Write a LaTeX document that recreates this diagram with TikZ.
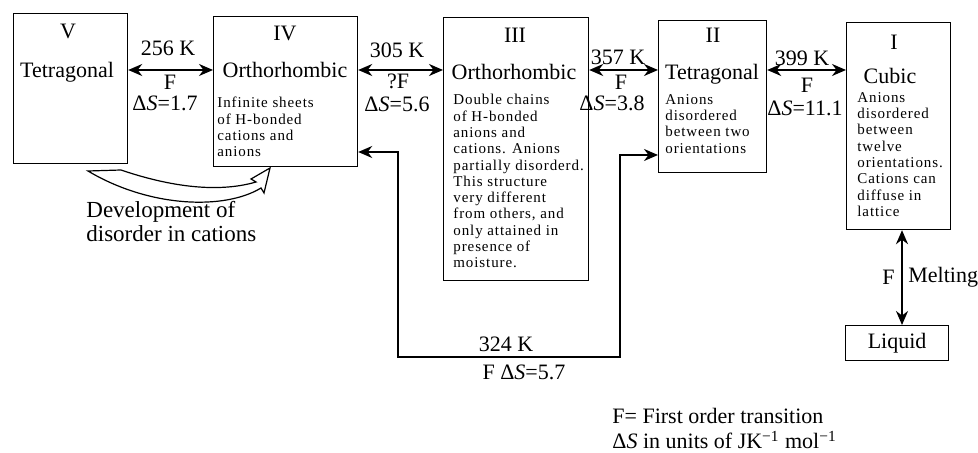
\documentclass[tikz,border=0pt]{standalone}
\usepackage{fontspec}
\setmainfont{Liberation Serif}
\usetikzlibrary{arrows.meta}

\begin{document}
\begin{tikzpicture}
[x=0.5pt,y=-0.5pt,
phase/.style={draw,line width=0.6pt,inner sep=0pt,anchor=north west},
trans/.style={{Stealth[length=7pt,width=6pt]}-{Stealth[length=7pt,width=6pt]},line width=0.9pt},
big/.style={font=\fontsize{11}{13}\selectfont,inner sep=0pt},
desc/.style={font=\fontsize{7.5}{8.15}\selectfont\addfontfeature{LetterSpace=6},align=left,anchor=north west,inner sep=0pt}]
\useasboundingbox (0,0) rectangle (978,453);
% the five phases and the melt
\node[phase,minimum width=57pt,minimum height=75pt] (V) at (13,13) {};
\node[phase,minimum width=72pt,minimum height=75pt] (IV) at (213,16) {};
\node[phase,minimum width=72.5pt,minimum height=131.5pt] (III) at (443,17) {};
\node[phase,minimum width=54pt,minimum height=76pt] (II) at (658,20) {};
\node[phase,minimum width=52pt,minimum height=103.5pt] (I) at (846,22) {};
\node[phase,big,minimum width=51.5pt,minimum height=17.5pt] (liquid) at (845,325) {Liquid};
% inside the boxes
\node[big] (Vnum) at (68,31) {V};
\node[big] (Vname) at (67,72) {Tetragonal};
\node[big] (IVnum) at (285,33) {IV};
\node[big] (IVname) at (285,70) {Orthorhombic};
\node[desc] (IVdesc) at (217,97) {Infinite sheets\\of H-bonded\\cations and\\anions};
\node[big] (IIInum) at (515,35) {III};
\node[big] (IIIname) at (514,72) {Orthorhombic};
\node[desc] (IIIdesc) at (453,94) {Double chains\\of H-bonded\\anions and\\cations. Anions\\partially disorderd.\\This structure\\very different\\from others, and\\only attained in\\presence of\\moisture.};
\node[big] (IInum) at (713,35) {II};
\node[big] (IIname) at (712,74) {Tetragonal};
\node[desc] (IIdesc) at (665,94) {Anions\\disordered\\between two\\orientations};
\node[big] (Inum) at (894,42) {I};
\node[big] (Iname) at (890,76) {Cubic};
\node[desc] (Idesc) at (857,92) {Anions\\disordered\\between\\twelve\\orientations.\\Cations can\\diffuse in\\lattice};
% transitions
\coordinate (row) at (0,70);
\draw[trans] (V.east |- row) -- (IV.west |- row);
\draw[trans] (IV.east |- row) -- (III.west |- row);
\draw[trans] (III.east |- row) -- (II.west |- row);
\draw[trans] (II.east |- row) -- (I.west |- row);
\node[big] (T54) at (168,48) {256 K};
\node[big] (F54) at (170,82) {F};
\node[big] (S54) at (165,103) {Δ\textit{S}=1.7};
\node[big] (T43) at (397,50) {305 K};
\node[big] (F43) at (398,81) {?F};
\node[big] (S43) at (397,104) {Δ\textit{S}=5.6};
\node[big] (T32) at (618,57) {357 K};
\node[big] (F32) at (621,82) {F};
\node[big] (S32) at (612,103) {Δ\textit{S}=3.8};
\node[big] (T21) at (802,58) {399 K};
\node[big] (F21) at (807,85) {F};
\node[big] (S21) at (805,108) {Δ\textit{S}=11.1};
% IV <-> II directly
\coordinate (lowIV) at (0,152);
\coordinate (lowII) at (0,155);
\coordinate (loopL) at (398,357);
\coordinate (loopR) at (620,357);
\draw[trans] (IV.east |- lowIV) -| (loopL) -- (loopR) |- (II.west |- lowII);
\node[big] (T42) at (506,344) {324 K};
\node[big] (S42) at (524,372) {F Δ\textit{S}=5.7};
% melting
\coordinate (melt) at (902,0);
\draw[trans] (I.south -| melt) -- (liquid.north -| melt);
\node[big,anchor=east] (Fmelt) at (895,277) {F};
\node[big,anchor=west] (melting) at (908,277) {Melting};
% cation disorder
\draw[line width=0.6pt] (88,171) -- (121,170) .. controls (165,185) and (215,194) .. (256,182)
  -- (251,179) -- (270,168) -- (264,193) -- (261,188) .. controls (225,210) and (150,208) .. cycle;
\node[big,font=\fontsize{11.5}{12}\selectfont,align=left,anchor=north west] (devel) at (86,201) {Development of\\disorder in cations};
% key
\node[big,anchor=west] (keyF) at (612,416) {F= First order transition};
\node[big,anchor=west] (keyS) at (612,440) {Δ\textit{S} in units of JK\textsuperscript{−1} mol\textsuperscript{−1}};
\end{tikzpicture}
\end{document}
